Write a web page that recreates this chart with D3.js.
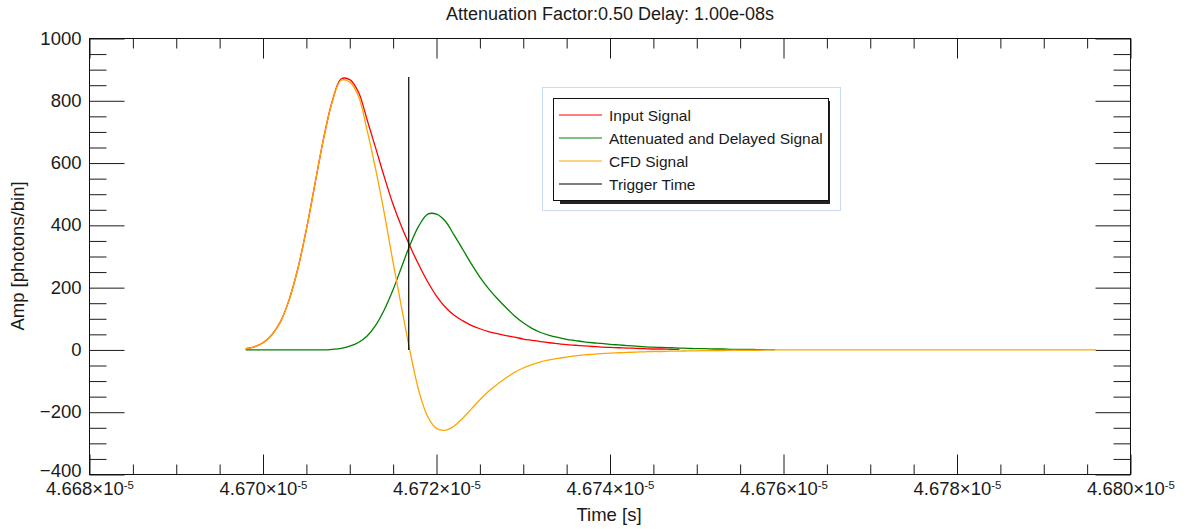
<!DOCTYPE html>
<html>
<head>
<meta charset="utf-8">
<script src="https://cdn.jsdelivr.net/npm/d3@7"></script>
<style>
  body { margin: 0; background: #fff; }
  text { font-family: "Liberation Sans", Arial, Helvetica, sans-serif; fill: #1a1a1a; }
</style>
</head>
<body>
<svg id="chart" width="1187" height="529"></svg>
<script>
// Sample times, in ns after the left edge of the window (4.668e-5 s)
const sampleNs = [18,19,20,21,22,23,24,25,26,27,28,29,30,31,32,33,34,35,36,37,38,39,40,41,42,43,44,45,46,47,48,49,
  50,51,52,53,54,55,56,57,58,59,60,61,62,63,64,65,66,67,68,69,70,71,72,73,74,75,76,77,78,79];

// Input pulse (photons/bin), samples 18..68 ns
const inputSignal = [4,10,23,48,90,160,259,387,535,681,800,870,868,828,739,647,554,467,394,330,271,218,173,138,112,
  94,79,68,59,52,46,41,35,31,27,23,20,17,15,13,11,9,8,7,6,5,4,3,3,2,2];

// Attenuated and delayed copy, samples 18..79 ns
const delayedSignal = [0,0,0,0,0,0,0,0,0,0,2,5,12,24,45,80,130,194,268,341,400,436,436,414,370,324,277,234,197,165,
  136,109,87,69,56,47,40,34,30,26,23,21,18,16,14,12,10,9,8,7,6,5,4,4,3,3,2,2,2,1,1,1];

// Constant-fraction discriminator output, samples 18..79 ns, then flat to the end time
const cfdSignal = [4,10,23,48,90,160,259,387,535,681,798,866,860,815,705,578,436,280,132,-12,-135,-215,-252,-258,
  -245,-220,-190,-160,-133,-110,-90,-72,-58,-47,-38,-32,-27,-23,-19,-16,-14,-12,-10,-9,-8,-7,-6,-5,-5,-4,-4,-3,-3,
  -2,-2,-2,-1,-1,-1,-1,0,0];
const cfdEndNs = 116;

// Trigger marker
const triggerNs = 36.8;
const triggerAmp = 876;

// Axis ticks
const xTickMantissa = ["4.668", "4.670", "4.672", "4.674", "4.676", "4.678", "4.680"];
const xTickExponent = "-5";
const yTickValues = [-400, -200, 0, 200, 400, 600, 800, 1000];

const seriesNames = ["Input Signal", "Attenuated and Delayed Signal", "CFD Signal", "Trigger Time"];
const seriesColors = ["#ff0000", "#008000", "#ffa500", "#000000"];

const titleText = "Attenuation Factor:0.50 Delay: 1.00e-08s";
const xTitle = "Time [s]";
const yTitle = "Amp [photons/bin]";

// ---------------------------------------------------------------------------
const svg = d3.select("#chart");
const FONT = "Liberation Sans, Arial, Helvetica, sans-serif";

const xMajor = xTickMantissa.map(m => +m * 1e-5);
const T0 = xMajor[0];
const nsToSec = ns => T0 + ns * 1e-9;

const x = d3.scaleLinear().domain([xMajor[0], xMajor[xMajor.length - 1]]).range([89.5, 1130.5]);
const y = d3.scaleLinear().domain([yTickValues[0], yTickValues[yTickValues.length - 1]]).range([474.5, 38.5]);

const [x0, x1] = x.range();
const [yb, yt] = y.range();

// minor ticks: 4 intervals per labelled x step, 50 units on y
const xStep = (xMajor[1] - xMajor[0]) / 4;
const xMinor = d3.range(0, (xMajor.length - 1) * 4 + 1).filter(i => i % 4 !== 0).map(i => T0 + i * xStep);
const yMinor = d3.range(yTickValues[0], yTickValues[yTickValues.length - 1] + 1, 50).filter(v => v % 200 !== 0);

function styleAxis(g) {
  g.attr("font-family", FONT).attr("font-size", 18.5).attr("color", "#1a1a1a");
  g.select(".domain").remove();
  g.selectAll(".tick line").attr("stroke-width", 1);
}

// bottom axis with labels
svg.append("g")
  .attr("transform", `translate(0,${yb})`)
  .call(d3.axisBottom(x).tickValues(xMajor).tickSize(-20).tickPadding(7).tickFormat(""))
  .call(styleAxis)
  .call(g => g.selectAll(".tick text").each(function(d, i) {
    const t = d3.select(this);
    t.append("tspan").text(xTickMantissa[i] + "\u00d710");
    t.append("tspan").attr("dy", "-0.5em").attr("font-size", "0.62em").text(xTickExponent);
  }));
svg.append("g")
  .attr("transform", `translate(0,${yb})`)
  .call(d3.axisBottom(x).tickValues(xMinor).tickSize(-10).tickFormat(""))
  .call(styleAxis);

// top axis mirror
svg.append("g")
  .attr("transform", `translate(0,${yt})`)
  .call(d3.axisTop(x).tickValues(xMajor).tickSize(-20).tickFormat(""))
  .call(styleAxis);
svg.append("g")
  .attr("transform", `translate(0,${yt})`)
  .call(d3.axisTop(x).tickValues(xMinor).tickSize(-10).tickFormat(""))
  .call(styleAxis);

// left axis with labels (the lowest one sits a little higher, clear of the time labels)
svg.append("g")
  .attr("transform", `translate(${x0},0)`)
  .call(d3.axisLeft(y).tickValues(yTickValues).tickSize(-35).tickPadding(8).tickFormat(d3.format("d")))
  .call(styleAxis)
  .call(g => g.selectAll(".tick text").attr("dy", d => d === yTickValues[0] ? "0.12em" : "0.3em"));
svg.append("g")
  .attr("transform", `translate(${x0},0)`)
  .call(d3.axisLeft(y).tickValues(yMinor).tickSize(-17).tickFormat(""))
  .call(styleAxis);

// right axis mirror
svg.append("g")
  .attr("transform", `translate(${x1},0)`)
  .call(d3.axisRight(y).tickValues(yTickValues).tickSize(-35).tickFormat(""))
  .call(styleAxis);
svg.append("g")
  .attr("transform", `translate(${x1},0)`)
  .call(d3.axisRight(y).tickValues(yMinor).tickSize(-17).tickFormat(""))
  .call(styleAxis);

// plot frame
svg.append("rect")
  .attr("x", x0).attr("y", yt).attr("width", x1 - x0).attr("height", yb - yt)
  .attr("fill", "none").attr("stroke", "#111").attr("stroke-width", 1);

// curves
const line = d3.line().curve(d3.curveCatmullRom.alpha(0.5)).x(d => x(nsToSec(d[0]))).y(d => y(d[1]));
const inputPts = inputSignal.map((v, i) => [sampleNs[i], v]);
const delayedPts = delayedSignal.map((v, i) => [sampleNs[i], v]);
const cfdPts = cfdSignal.map((v, i) => [sampleNs[i], v]).concat([[cfdEndNs, 0]]);

[inputPts, delayedPts, cfdPts].forEach((pts, k) => {
  svg.append("path")
    .attr("d", line(pts))
    .attr("fill", "none")
    .attr("stroke", seriesColors[k])
    .attr("stroke-width", 1.3)
    .attr("stroke-linejoin", "round");
});

// trigger time marker
svg.append("path")
  .attr("d", d3.line().x(d => x(nsToSec(d[0]))).y(d => y(d[1]))([[triggerNs, 0], [triggerNs, triggerAmp]]))
  .attr("stroke", seriesColors[3])
  .attr("stroke-width", 1.2);

// legend
const lg = svg.append("g");
lg.append("rect").attr("x", 542.5).attr("y", 87.5).attr("width", 298).attr("height", 123)
  .attr("fill", "#fff").attr("stroke", "#c9dcf4").attr("stroke-width", 1);
lg.append("rect").attr("x", 560).attr("y", 101).attr("width", 270).attr("height", 103)
  .attr("fill", "#222");
lg.append("rect").attr("x", 553.5).attr("y", 98.5).attr("width", 275).attr("height", 102)
  .attr("fill", "#fff").attr("stroke", "#111").attr("stroke-width", 1);
seriesNames.forEach((name, i) => {
  const yy = 115 + i * 23;
  lg.append("line").attr("x1", 559).attr("x2", 602).attr("y1", yy).attr("y2", yy)
    .attr("stroke", seriesColors[i]).attr("stroke-width", 1.2);
  lg.append("text").attr("x", 609).attr("y", yy + 6)
    .attr("font-size", 15.5).text(name);
});

// titles
svg.append("text").attr("x", 610).attr("y", 20).attr("text-anchor", "middle")
  .attr("font-size", 18).text(titleText);
svg.append("text").attr("x", 609).attr("y", 521).attr("text-anchor", "middle")
  .attr("font-size", 18.5).text(xTitle);
svg.append("text").attr("transform", "translate(24,256) rotate(-90)").attr("text-anchor", "middle")
  .attr("font-size", 18.5).text(yTitle);
</script>
</body>
</html>
